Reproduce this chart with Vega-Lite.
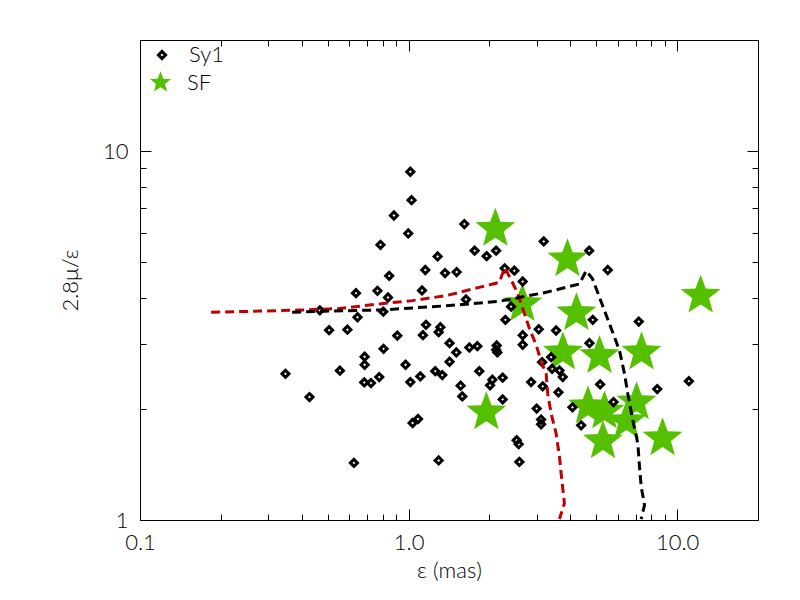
{
  "$schema": "https://vega.github.io/schema/vega-lite/v6.json",
  "width": 618,
  "height": 480,
  "autosize": "none",
  "padding": {"left": 140, "top": 40, "right": 42, "bottom": 80},
  "background": "white",
  "view": {"stroke": "black", "strokeWidth": 1},
  "config": {
    "axis": {
      "grid": false,
      "domainColor": "black",
      "domainWidth": 1,
      "tickColor": "black",
      "tickWidth": 1,
      "labelColor": "black",
      "labelFont": "Lato",
      "labelFontWeight": 300,
      "labelFontSize": 22,
      "titleColor": "black",
      "titleFont": "Lato",
      "titleFontWeight": 300,
      "titleFontSize": 22
    },
    "legend": {
      "labelFont": "Lato",
      "labelFontWeight": 300,
      "labelFontSize": 22,
      "labelColor": "black"
    }
  },
  "datasets": {
    "sy1": [
      {"eps": 1.015, "ratio": 8.79, "sample": "Sy1"},
      {"eps": 1.026, "ratio": 7.36, "sample": "Sy1"},
      {"eps": 0.882, "ratio": 6.69, "sample": "Sy1"},
      {"eps": 0.997, "ratio": 5.98, "sample": "Sy1"},
      {"eps": 0.786, "ratio": 5.57, "sample": "Sy1"},
      {"eps": 1.613, "ratio": 6.34, "sample": "Sy1"},
      {"eps": 1.283, "ratio": 5.18, "sample": "Sy1"},
      {"eps": 1.154, "ratio": 4.76, "sample": "Sy1"},
      {"eps": 1.367, "ratio": 4.67, "sample": "Sy1"},
      {"eps": 1.51, "ratio": 4.7, "sample": "Sy1"},
      {"eps": 0.847, "ratio": 4.59, "sample": "Sy1"},
      {"eps": 1.762, "ratio": 5.37, "sample": "Sy1"},
      {"eps": 1.953, "ratio": 5.19, "sample": "Sy1"},
      {"eps": 2.118, "ratio": 5.37, "sample": "Sy1"},
      {"eps": 0.637, "ratio": 4.12, "sample": "Sy1"},
      {"eps": 0.766, "ratio": 4.18, "sample": "Sy1"},
      {"eps": 0.838, "ratio": 4.01, "sample": "Sy1"},
      {"eps": 1.122, "ratio": 4.19, "sample": "Sy1"},
      {"eps": 1.636, "ratio": 3.96, "sample": "Sy1"},
      {"eps": 0.4675, "ratio": 3.7, "sample": "Sy1"},
      {"eps": 0.805, "ratio": 3.67, "sample": "Sy1"},
      {"eps": 0.6455, "ratio": 3.545, "sample": "Sy1"},
      {"eps": 1.161, "ratio": 3.38, "sample": "Sy1"},
      {"eps": 1.313, "ratio": 3.33, "sample": "Sy1"},
      {"eps": 0.506, "ratio": 3.27, "sample": "Sy1"},
      {"eps": 0.592, "ratio": 3.28, "sample": "Sy1"},
      {"eps": 1.294, "ratio": 3.23, "sample": "Sy1"},
      {"eps": 1.131, "ratio": 3.17, "sample": "Sy1"},
      {"eps": 0.908, "ratio": 3.16, "sample": "Sy1"},
      {"eps": 0.807, "ratio": 2.91, "sample": "Sy1"},
      {"eps": 0.686, "ratio": 2.77, "sample": "Sy1"},
      {"eps": 0.686, "ratio": 2.635, "sample": "Sy1"},
      {"eps": 0.555, "ratio": 2.54, "sample": "Sy1"},
      {"eps": 0.348, "ratio": 2.49, "sample": "Sy1"},
      {"eps": 0.4276, "ratio": 2.154, "sample": "Sy1"},
      {"eps": 0.9745, "ratio": 2.635, "sample": "Sy1"},
      {"eps": 1.421, "ratio": 3.015, "sample": "Sy1"},
      {"eps": 1.506, "ratio": 2.846, "sample": "Sy1"},
      {"eps": 1.421, "ratio": 2.685, "sample": "Sy1"},
      {"eps": 1.684, "ratio": 2.935, "sample": "Sy1"},
      {"eps": 1.803, "ratio": 2.959, "sample": "Sy1"},
      {"eps": 2.118, "ratio": 2.893, "sample": "Sy1"},
      {"eps": 0.7777, "ratio": 2.44, "sample": "Sy1"},
      {"eps": 0.7244, "ratio": 2.35, "sample": "Sy1"},
      {"eps": 0.684, "ratio": 2.36, "sample": "Sy1"},
      {"eps": 1.015, "ratio": 2.365, "sample": "Sy1"},
      {"eps": 1.106, "ratio": 2.45, "sample": "Sy1"},
      {"eps": 1.257, "ratio": 2.532, "sample": "Sy1"},
      {"eps": 1.335, "ratio": 2.47, "sample": "Sy1"},
      {"eps": 1.834, "ratio": 2.532, "sample": "Sy1"},
      {"eps": 1.562, "ratio": 2.312, "sample": "Sy1"},
      {"eps": 1.585, "ratio": 2.163, "sample": "Sy1"},
      {"eps": 2.051, "ratio": 2.4, "sample": "Sy1"},
      {"eps": 2.011, "ratio": 2.317, "sample": "Sy1"},
      {"eps": 1.035, "ratio": 1.832, "sample": "Sy1"},
      {"eps": 1.084, "ratio": 1.878, "sample": "Sy1"},
      {"eps": 0.626, "ratio": 1.428, "sample": "Sy1"},
      {"eps": 1.294, "ratio": 1.45, "sample": "Sy1"},
      {"eps": 3.186, "ratio": 5.69, "sample": "Sy1"},
      {"eps": 4.704, "ratio": 5.37, "sample": "Sy1"},
      {"eps": 5.516, "ratio": 4.76, "sample": "Sy1"},
      {"eps": 2.28, "ratio": 4.81, "sample": "Sy1"},
      {"eps": 2.477, "ratio": 4.74, "sample": "Sy1"},
      {"eps": 2.66, "ratio": 4.43, "sample": "Sy1"},
      {"eps": 2.408, "ratio": 3.787, "sample": "Sy1"},
      {"eps": 2.293, "ratio": 3.487, "sample": "Sy1"},
      {"eps": 3.052, "ratio": 3.289, "sample": "Sy1"},
      {"eps": 3.543, "ratio": 3.263, "sample": "Sy1"},
      {"eps": 4.851, "ratio": 3.487, "sample": "Sy1"},
      {"eps": 7.197, "ratio": 3.45, "sample": "Sy1"},
      {"eps": 2.66, "ratio": 3.168, "sample": "Sy1"},
      {"eps": 2.66, "ratio": 2.985, "sample": "Sy1"},
      {"eps": 4.716, "ratio": 3.015, "sample": "Sy1"},
      {"eps": 3.142, "ratio": 2.678, "sample": "Sy1"},
      {"eps": 3.395, "ratio": 2.763, "sample": "Sy1"},
      {"eps": 3.646, "ratio": 2.543, "sample": "Sy1"},
      {"eps": 2.241, "ratio": 2.431, "sample": "Sy1"},
      {"eps": 2.859, "ratio": 2.365, "sample": "Sy1"},
      {"eps": 3.158, "ratio": 2.303, "sample": "Sy1"},
      {"eps": 3.614, "ratio": 2.218, "sample": "Sy1"},
      {"eps": 3.75, "ratio": 2.44, "sample": "Sy1"},
      {"eps": 3.423, "ratio": 2.57, "sample": "Sy1"},
      {"eps": 2.241, "ratio": 2.123, "sample": "Sy1"},
      {"eps": 2.999, "ratio": 2.004, "sample": "Sy1"},
      {"eps": 3.115, "ratio": 1.872, "sample": "Sy1"},
      {"eps": 3.115, "ratio": 1.818, "sample": "Sy1"},
      {"eps": 2.526, "ratio": 1.645, "sample": "Sy1"},
      {"eps": 2.57, "ratio": 1.605, "sample": "Sy1"},
      {"eps": 2.586, "ratio": 1.437, "sample": "Sy1"},
      {"eps": 4.391, "ratio": 1.806, "sample": "Sy1"},
      {"eps": 5.169, "ratio": 2.331, "sample": "Sy1"},
      {"eps": 5.794, "ratio": 2.088, "sample": "Sy1"},
      {"eps": 8.43, "ratio": 2.264, "sample": "Sy1"},
      {"eps": 11.06, "ratio": 2.379, "sample": "Sy1"},
      {"eps": 2.128, "ratio": 2.972, "sample": "Sy1"},
      {"eps": 2.141, "ratio": 2.846, "sample": "Sy1"},
      {"eps": 4.075, "ratio": 2.02, "sample": "Sy1"}
    ],
    "sf": [
      {"eps": 2.104, "ratio": 6.155, "group": "SF"},
      {"eps": 3.904, "ratio": 5.09, "group": "SF"},
      {"eps": 2.653, "ratio": 3.847, "group": "SF"},
      {"eps": 4.217, "ratio": 3.637, "group": "SF"},
      {"eps": 3.756, "ratio": 2.846, "group": "SF"},
      {"eps": 5.138, "ratio": 2.784, "group": "SF"},
      {"eps": 7.367, "ratio": 2.846, "group": "SF"},
      {"eps": 12.23, "ratio": 4.056, "group": "SF"},
      {"eps": 1.948, "ratio": 1.958, "group": "SF"},
      {"eps": 4.655, "ratio": 2.033, "group": "SF"},
      {"eps": 5.362, "ratio": 1.97, "group": "SF"},
      {"eps": 7.06, "ratio": 2.084, "group": "SF"},
      {"eps": 6.478, "ratio": 1.852, "group": "SF"},
      {"eps": 5.293, "ratio": 1.635, "group": "SF"},
      {"eps": 8.825, "ratio": 1.665, "group": "SF"}
    ],
    "models": [
      {"eps": 0.184, "ratio": 3.656, "model": "m1", "i": 0},
      {"eps": 0.278, "ratio": 3.683, "model": "m1", "i": 1},
      {"eps": 0.391, "ratio": 3.707, "model": "m1", "i": 2},
      {"eps": 0.552, "ratio": 3.741, "model": "m1", "i": 3},
      {"eps": 0.778, "ratio": 3.852, "model": "m1", "i": 4},
      {"eps": 1.032, "ratio": 3.932, "model": "m1", "i": 5},
      {"eps": 1.379, "ratio": 4.056, "model": "m1", "i": 6},
      {"eps": 1.834, "ratio": 4.272, "model": "m1", "i": 7},
      {"eps": 2.178, "ratio": 4.406, "model": "m1", "i": 8},
      {"eps": 2.28, "ratio": 4.83, "model": "m1", "i": 9},
      {"eps": 2.4, "ratio": 4.5, "model": "m1", "i": 10},
      {"eps": 2.542, "ratio": 4.133, "model": "m1", "i": 11},
      {"eps": 2.676, "ratio": 3.695, "model": "m1", "i": 12},
      {"eps": 2.818, "ratio": 3.303, "model": "m1", "i": 13},
      {"eps": 2.991, "ratio": 2.972, "model": "m1", "i": 14},
      {"eps": 3.124, "ratio": 2.673, "model": "m1", "i": 15},
      {"eps": 3.252, "ratio": 2.492, "model": "m1", "i": 16},
      {"eps": 3.297, "ratio": 2.2, "model": "m1", "i": 17},
      {"eps": 3.395, "ratio": 1.943, "model": "m1", "i": 18},
      {"eps": 3.543, "ratio": 1.715, "model": "m1", "i": 19},
      {"eps": 3.646, "ratio": 1.483, "model": "m1", "i": 20},
      {"eps": 3.698, "ratio": 1.337, "model": "m1", "i": 21},
      {"eps": 3.804, "ratio": 1.11, "model": "m1", "i": 22},
      {"eps": 3.646, "ratio": 1.006, "model": "m1", "i": 23},
      {"eps": 0.3685, "ratio": 3.656, "model": "m2", "i": 0},
      {"eps": 0.506, "ratio": 3.683, "model": "m2", "i": 1},
      {"eps": 0.798, "ratio": 3.711, "model": "m2", "i": 2},
      {"eps": 1.418, "ratio": 3.812, "model": "m2", "i": 3},
      {"eps": 2.178, "ratio": 3.914, "model": "m2", "i": 4},
      {"eps": 3.252, "ratio": 4.141, "model": "m2", "i": 5},
      {"eps": 4.327, "ratio": 4.363, "model": "m2", "i": 6},
      {"eps": 4.584, "ratio": 4.74, "model": "m2", "i": 7},
      {"eps": 4.838, "ratio": 4.51, "model": "m2", "i": 8},
      {"eps": 5.138, "ratio": 4.013, "model": "m2", "i": 9},
      {"eps": 5.598, "ratio": 3.401, "model": "m2", "i": 10},
      {"eps": 6.1, "ratio": 2.88, "model": "m2", "i": 11},
      {"eps": 6.368, "ratio": 2.492, "model": "m2", "i": 12},
      {"eps": 6.549, "ratio": 2.2, "model": "m2", "i": 13},
      {"eps": 6.838, "ratio": 1.864, "model": "m2", "i": 14},
      {"eps": 7.138, "ratio": 1.612, "model": "m2", "i": 15},
      {"eps": 7.242, "ratio": 1.393, "model": "m2", "i": 16},
      {"eps": 7.349, "ratio": 1.23, "model": "m2", "i": 17},
      {"eps": 7.56, "ratio": 1.098, "model": "m2", "i": 18},
      {"eps": 7.349, "ratio": 1.006, "model": "m2", "i": 19}
    ]
  },
  "layer": [
    {
      "data": {"name": "sf"},
      "mark": {
        "type": "point",
        "shape": "M0,-1L0.2469,-0.3398L0.9511,-0.309L0.3995,0.1298L0.5878,0.809L0,0.42L-0.5878,0.809L-0.3995,0.1298L-0.9511,-0.309L-0.2469,-0.3398Z",
        "filled": true,
        "size": 1760,
        "opacity": 1,
        "strokeWidth": 0,
        "clip": true
      },
      "encoding": {
        "x": {
          "field": "eps", "type": "quantitative",
          "scale": {"type": "log", "domain": [0.1, 20], "nice": false},
          "axis": {
            "orient": "bottom",
            "values": [0.1, 0.2, 0.3, 0.4, 0.5, 0.6, 0.7, 0.8, 0.9, 1, 2, 3, 4, 5, 6, 7, 8, 9, 10, 20],
            "labelExpr": "datum.value === 0.1 ? '0.1' : datum.value === 1 ? '1.0' : datum.value === 10 ? '10.0' : ''",
            "tickSize": {"condition": {"test": "datum.value === 0.1 || datum.value === 1 || datum.value === 10", "value": -11}, "value": -6},
            "labelPadding": 23,
            "labelFlush": false,
            "labelOverlap": false,
            "labelBound": false,
            "title": "ε (mas)",
            "titlePadding": 2
          }
        },
        "y": {
          "field": "ratio", "type": "quantitative",
          "scale": {"type": "log", "domain": [1, 20], "nice": false},
          "axis": {
            "orient": "left",
            "values": [1, 2, 3, 4, 5, 6, 7, 8, 9, 10, 20],
            "labelExpr": "datum.value === 1 ? '1' : datum.value === 10 ? '10' : ''",
            "tickSize": {"condition": {"test": "datum.value === 0.1 || datum.value === 1 || datum.value === 10", "value": -11}, "value": -6},
            "labelPadding": 23,
            "labelFlush": false,
            "labelOverlap": false,
            "labelBound": false,
            "title": "2.8μ/ε",
            "titlePadding": 20
          }
        },
        "fill": {
          "field": "group", "type": "nominal",
          "scale": {"range": ["#55c000"]},
          "legend": {
            "orient": "none",
            "legendX": 9,
            "legendY": 31,
            "title": null,
            "padding": 0,
            "symbolSize": 500,
            "symbolStrokeWidth": 0,
            "labelOffset": 15
          }
        }
      }
    },
    {
      "data": {"name": "sy1"},
      "mark": {
        "type": "point",
        "shape": "diamond",
        "filled": false,
        "size": 50,
        "strokeWidth": 3,
        "opacity": 1,
        "clip": true
      },
      "encoding": {
        "x": {
          "field": "eps", "type": "quantitative",
          "scale": {"type": "log", "domain": [0.1, 20], "nice": false},
          "axis": {
            "orient": "top",
            "values": [0.1, 0.2, 0.3, 0.4, 0.5, 0.6, 0.7, 0.8, 0.9, 1, 2, 3, 4, 5, 6, 7, 8, 9, 10, 20],
            "tickSize": {"condition": {"test": "datum.value === 0.1 || datum.value === 1 || datum.value === 10", "value": -11}, "value": -6},
            "labels": false,
            "title": null
          }
        },
        "y": {
          "field": "ratio", "type": "quantitative",
          "scale": {"type": "log", "domain": [1, 20], "nice": false},
          "axis": {
            "orient": "right",
            "values": [1, 2, 3, 4, 5, 6, 7, 8, 9, 10, 20],
            "tickSize": {"condition": {"test": "datum.value === 0.1 || datum.value === 1 || datum.value === 10", "value": -11}, "value": -6},
            "labels": false,
            "title": null
          }
        },
        "stroke": {
          "field": "sample", "type": "nominal",
          "scale": {"range": ["#000000"]},
          "legend": {
            "orient": "none",
            "legendX": 11,
            "legendY": 4,
            "title": null,
            "padding": 0,
            "symbolSize": 50,
            "symbolStrokeWidth": 3,
            "labelOffset": 16
          }
        }
      }
    },
    {
      "data": {"name": "models"},
      "mark": {"type": "line", "strokeDash": [9, 5], "strokeWidth": 3, "clip": true},
      "encoding": {
        "x": {"field": "eps", "type": "quantitative", "scale": {"type": "log", "domain": [0.1, 20], "nice": false}, "axis": null},
        "y": {"field": "ratio", "type": "quantitative", "scale": {"type": "log", "domain": [1, 20], "nice": false}, "axis": null},
        "color": {
          "field": "model", "type": "nominal",
          "scale": {"domain": ["m1", "m2"], "range": ["#c00000", "#000000"]},
          "legend": null
        },
        "order": {"field": "i", "type": "quantitative"}
      }
    }
  ],
  "resolve": {"axis": {"x": "independent", "y": "independent"}}
}
